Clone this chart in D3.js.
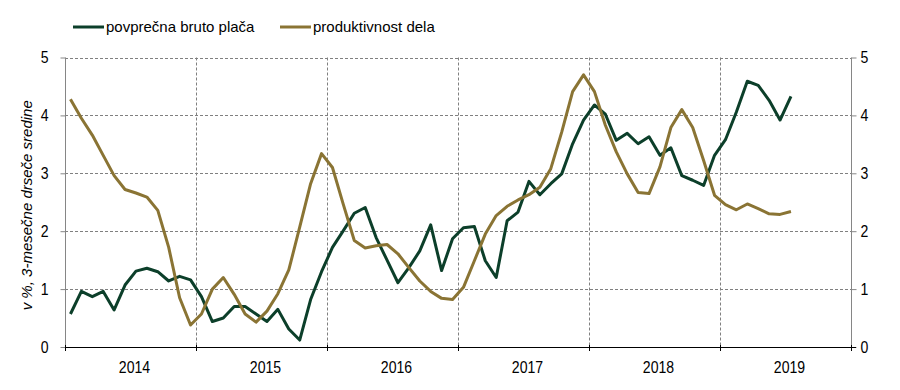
<!DOCTYPE html>
<html>
<head>
<meta charset="utf-8">
<script src="https://cdn.jsdelivr.net/npm/d3@7"></script>
<style>
  html, body { margin: 0; padding: 0; background: #fff; }
  svg { display: block; font-family: "Liberation Sans", Arial, sans-serif; }
</style>
</head>
<body>
<svg id="chart" width="900" height="390"></svg>
<script>
// ---------- DATA ----------
const years = ["2014", "2015", "2016", "2017", "2018", "2019"];
const monthsPerYear = 12;
const yTicks = [0, 1, 2, 3, 4, 5];
const seriesNames = ["povprečna bruto plača", "produktivnost dela"];

// povprečna bruto plača (Jan 2014 – Jul 2019)
const placa = [
  0.57, 0.96, 0.87, 0.96, 0.64, 1.07, 1.31, 1.36, 1.30, 1.14, 1.22, 1.16,
  0.87, 0.44, 0.50, 0.70, 0.70, 0.57, 0.44, 0.65, 0.31, 0.12, 0.82, 1.30,
  1.72, 2.01, 2.31, 2.41, 1.89, 1.50, 1.11, 1.37, 1.66, 2.11, 1.32, 1.87,
  2.06, 2.08, 1.49, 1.20, 2.18, 2.33, 2.86, 2.63, 2.82, 2.99, 3.51, 3.92,
  4.18, 4.02, 3.57, 3.69, 3.51, 3.63, 3.31, 3.44, 2.96, 2.88, 2.79, 3.31,
  3.58, 4.06, 4.59, 4.52, 4.26, 3.92, 4.33
];
// produktivnost dela (Jan 2014 – Jul 2019)
const produktivnost = [
  4.28, 3.95, 3.66, 3.31, 2.96, 2.72, 2.66, 2.59, 2.36, 1.72, 0.85, 0.38,
  0.57, 1.00, 1.20, 0.91, 0.57, 0.43, 0.62, 0.92, 1.33, 2.07, 2.82, 3.34,
  3.10, 2.46, 1.84, 1.71, 1.75, 1.77, 1.61, 1.37, 1.14, 0.96, 0.84, 0.82,
  1.03, 1.49, 1.95, 2.27, 2.43, 2.54, 2.63, 2.76, 3.08, 3.71, 4.41, 4.70,
  4.41, 3.83, 3.37, 2.99, 2.67, 2.65, 3.11, 3.79, 4.10, 3.79, 3.22, 2.62,
  2.46, 2.37, 2.47, 2.39, 2.30, 2.29, 2.34
];

const colors = ["#0C3F2A", "#8A7434"];

// ---------- LAYOUT ----------
const svg = d3.select("#chart");
const pLeft = 65, pRight = 851, pTop = 57.5, pBottom = 347;
const sx = 0.88; // horizontal condensing of tick labels

const months = [];
years.forEach(yr => { for (let m = 1; m <= monthsPerYear; m++) months.push(yr + "-" + m); });

const x = d3.scaleBand().domain(months).range([pLeft, pRight]).padding(0);
const xYear = d3.scaleBand().domain(years).range([pLeft, pRight]).padding(0);
const y = d3.scaleLinear().domain([0, 5]).range([pBottom, pTop]);

const gridColor = "#808080";

// horizontal gridlines
svg.append("g")
  .selectAll("line")
  .data(yTicks.filter(t => t > 0))
  .join("line")
  .attr("x1", pLeft).attr("x2", pRight)
  .attr("y1", d => Math.round(y(d)) + 0.5).attr("y2", d => Math.round(y(d)) + 0.5)
  .attr("stroke", gridColor).attr("stroke-width", 1)
  .attr("stroke-dasharray", "3,2");

// vertical year gridlines
svg.append("g")
  .selectAll("line")
  .data(years.slice(1))
  .join("line")
  .attr("x1", d => Math.round(xYear(d)) + 0.5).attr("x2", d => Math.round(xYear(d)) + 0.5)
  .attr("y1", pTop).attr("y2", pBottom)
  .attr("stroke", gridColor).attr("stroke-width", 1)
  .attr("stroke-dasharray", "3,2");

// left axis
const yAxisL = d3.axisLeft(y).tickValues(yTicks).tickSize(5).tickPadding(12).tickFormat(d3.format("d"));
const gL = svg.append("g").attr("transform", `translate(${pLeft + 0.5},0)`).call(yAxisL);
gL.select(".domain").attr("stroke", "#868686").attr("d", `M0,${pTop}V${pBottom}`);
gL.selectAll(".tick line").attr("stroke", "#868686");
gL.selectAll(".tick text")
  .attr("font-size", 16).attr("fill", "#000").attr("font-family", "Liberation Sans, Arial, sans-serif")
  .attr("x", -17 / sx).attr("transform", `scale(${sx},1)`);

// right axis
const yAxisR = d3.axisRight(y).tickValues(yTicks).tickSize(5).tickPadding(4).tickFormat(d3.format("d"));
const gR = svg.append("g").attr("transform", `translate(${pRight + 0.5},0)`).call(yAxisR);
gR.select(".domain").attr("stroke", "#868686").attr("d", `M0,${pTop}V${pBottom}`);
gR.selectAll(".tick line").attr("stroke", "#868686");
gR.selectAll(".tick text")
  .attr("font-size", 16).attr("fill", "#000").attr("font-family", "Liberation Sans, Arial, sans-serif")
  .attr("x", 9 / sx).attr("transform", `scale(${sx},1)`);

// bottom axis (year boundaries as ticks)
const boundaries = years.map(d => xYear(d)).concat([pRight]);
svg.append("line")
  .attr("x1", pLeft).attr("x2", pRight + 5)
  .attr("y1", pBottom + 0.5).attr("y2", pBottom + 0.5)
  .attr("stroke", "#000").attr("stroke-width", 1);
svg.append("g")
  .selectAll("line")
  .data(boundaries)
  .join("line")
  .attr("x1", d => Math.round(d) + 0.5).attr("x2", d => Math.round(d) + 0.5)
  .attr("y1", pBottom - 2).attr("y2", pBottom + 4)
  .attr("stroke", "#000").attr("stroke-width", 1);

svg.append("g")
  .selectAll("text")
  .data(years)
  .join("text")
  .attr("transform", d => `translate(${xYear(d) + xYear.bandwidth() / 2 + 4},373) scale(${sx},1)`)
  .attr("text-anchor", "middle")
  .attr("font-size", 16)
  .text(d => d);

// y axis title
svg.append("text")
  .attr("transform", `translate(32,${(pTop + pBottom) / 2 + 3}) rotate(-90)`)
  .attr("text-anchor", "middle")
  .attr("font-size", 15)
  .attr("font-style", "italic")
  .text("v %, 3-mesečne drseče sredine");

// lines
const line = d3.line()
  .x((d, i) => x(months[i]) + x.bandwidth() / 2)
  .y(d => y(d));

[placa, produktivnost].forEach((s, k) => {
  svg.append("path")
    .datum(s)
    .attr("fill", "none")
    .attr("stroke", colors[k])
    .attr("stroke-width", 3)
    .attr("stroke-linejoin", "round")
    .attr("d", line);
});

// legend
const legendX = [73, 280];
const lg = svg.append("g");
seriesNames.forEach((name, k) => {
  lg.append("line")
    .attr("x1", legendX[k]).attr("x2", legendX[k] + 31)
    .attr("y1", 27).attr("y2", 27)
    .attr("stroke", colors[k]).attr("stroke-width", 3);
  lg.append("text")
    .attr("x", legendX[k] + 33)
    .attr("y", 32)
    .attr("font-size", 15)
    .text(name);
});
</script>
</body>
</html>
